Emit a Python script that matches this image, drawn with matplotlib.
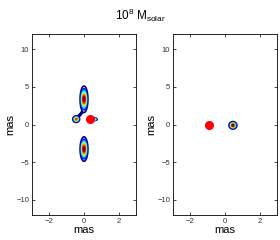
import numpy as np
import matplotlib
matplotlib.use("Agg")
import matplotlib.pyplot as plt

plt.rcParams['font.family'] = ['Liberation Sans', 'DejaVu Sans']
plt.rcParams['mathtext.fontset'] = 'custom'
plt.rcParams['mathtext.rm'] = 'Liberation Sans'
plt.rcParams['mathtext.it'] = 'Liberation Sans'

title = r"$\mathregular{10^8\ M_{solar}}$"
xlabel = "mas"
ylabel = "mas"
xticks = [-2, 0, 2]
yticks = [-10, -5, 0, 5, 10]

# lensed images: x, y, sigma_x, sigma_y, amplitude
left_x = [0.0, -0.45, 0.0, 0.62, -0.37, -0.3, -0.22, -0.14, -0.07, -0.02]
left_y = [3.35, 0.72, -3.25, 0.7, 0.92, 1.12, 1.33, 1.55, 1.78, 2.0]
left_sx = [0.1, 0.09, 0.1, 0.07, 0.045, 0.045, 0.045, 0.045, 0.045, 0.045]
left_sy = [0.78, 0.2, 0.72, 0.08, 0.12, 0.12, 0.12, 0.12, 0.12, 0.12]
left_amp = [1.0, 0.85, 1.0, 0.55, 0.14, 0.14, 0.14, 0.14, 0.14, 0.14]
left_src = (0.35, 0.7)

right_x = [0.45]
right_y = [-0.1]
right_sx = [0.1]
right_sy = [0.22]
right_amp = [1.0]
right_src = (-0.9, -0.1)

levels = [0.08, 0.2, 0.32, 0.44, 0.56, 0.68, 0.8, 0.92]

fig = plt.figure(figsize=(2.8, 2.4), dpi=100)
fig.text(0.5, 0.935, title, ha='center', va='center', fontsize=8.5)

gx = np.linspace(-3, 3, 601)
gy = np.linspace(-12, 12, 961)
X, Y = np.meshgrid(gx, gy)

def field(xs, ys, sxs, sys_, amps):
    Z = np.zeros_like(X)
    for x0, y0, sx, sy, a in zip(xs, ys, sxs, sys_, amps):
        Z = np.maximum(Z, a * np.exp(-0.5 * (((X - x0) / sx) ** 2 + ((Y - y0) / sy) ** 2)))
    return Z

panels = [
    ([0.114, 0.104, 0.372, 0.754], (left_x, left_y, left_sx, left_sy, left_amp), left_src),
    ([0.618, 0.104, 0.372, 0.754], (right_x, right_y, right_sx, right_sy, right_amp), right_src),
]

for rect, params, src in panels:
    ax = fig.add_axes(rect)
    Z = field(*params)
    ax.contour(X, Y, Z, levels=levels, cmap='jet', linewidths=1.2)
    ax.plot([src[0]], [src[1]], 'o', color='red', markersize=5.5, zorder=5)
    ax.set_xlim(-3, 3)
    ax.set_ylim(-12, 12)
    ax.set_xticks(xticks)
    ax.set_yticks(yticks)
    ax.set_yticklabels([str(t).replace('-', '\u2212') for t in yticks])
    ax.set_xticklabels([str(t).replace('-', '\u2212') for t in xticks])
    ax.tick_params(direction='in', labelsize=5.5, length=2.5, width=0.5,
                   top=True, right=True, pad=2, labelcolor='#333333')
    for s in ax.spines.values():
        s.set_linewidth(0.6)
    ax.set_xlabel(xlabel, fontsize=8, labelpad=0)
    ax.set_ylabel(ylabel, fontsize=8, labelpad=1)

fig.savefig("out.png", dpi=100)
